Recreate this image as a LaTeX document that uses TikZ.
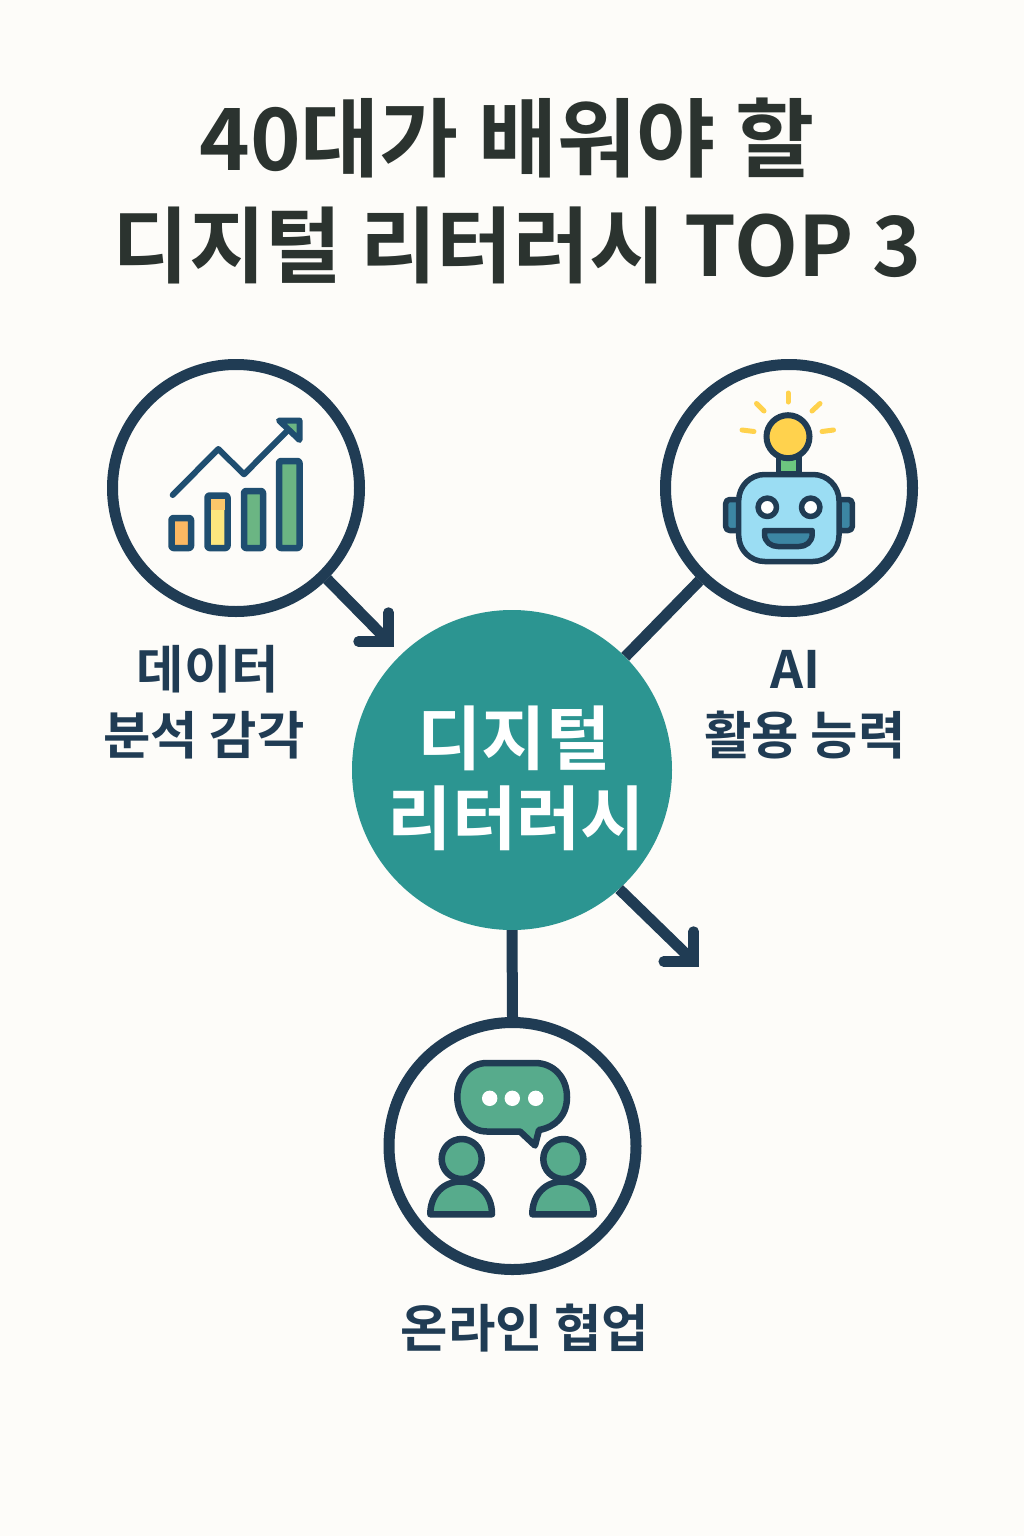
\documentclass[tikz,border=0pt]{standalone}
\usepackage{fontspec}
\setmainfont{Noto Sans CJK KR}[BoldFont={Noto Sans CJK KR Bold}]
\definecolor{bgc}{HTML}{FDFCF9}
\definecolor{navy}{HTML}{203C54}
\definecolor{chartb}{HTML}{1F4E70}
\definecolor{titlec}{HTML}{2B332F}
\definecolor{teal}{HTML}{2C9591}
\definecolor{orangef}{HTML}{FBB862}
\definecolor{yellowf}{HTML}{FCE77E}
\definecolor{greenf}{HTML}{6BB583}
\definecolor{bulb}{HTML}{FFD24D}
\definecolor{neck}{HTML}{6CC67F}
\definecolor{robot}{HTML}{9BDDF3}
\definecolor{ear}{HTML}{3C86A3}
\definecolor{chat}{HTML}{57AB8C}
\tikzset{
  x=1pt,y=-1pt,
  ring/.style={circle,draw=navy,line width=11pt,minimum size=247pt,inner sep=0pt},
  hubnode/.style={circle,fill=teal,minimum size=320pt,inner sep=0pt},
  hubtextstyle/.style={text=white,font=\bfseries\fontsize{70}{80}\selectfont,align=center},
  titletext/.style={text=titlec,font=\bfseries\fontsize{83}{90}\selectfont},
  labeltext/.style={text=navy,font=\bfseries\fontsize{51.5}{60}\selectfont},
  link/.style={draw=navy,line width=11pt},
  barbhead/.style={draw=navy,line width=10.5pt,line cap=round,line join=miter},
  barbox/.style={draw=chartb,line width=6.5pt,rounded corners=2pt,line join=round},
  chartline/.style={draw=chartb,line width=6pt,line cap=round,line join=round},
  iconline/.style={draw=navy,line width=5.5pt,line join=round},
  chatline/.style={draw=navy,line width=6.5pt,line join=round},
  ray/.style={draw=bulb,line width=5pt,line cap=round},
}
\begin{document}
\begin{tikzpicture}
\useasboundingbox[fill=bgc] (0,0) rectangle (1024,1536);
% titles
\node[titletext,font=\bfseries\fontsize{86}{90}\selectfont] (t1) at (507,138) {40대가 배워야 할};
\node[titletext] (t2) at (517,245) {디지털 리터러시 TOP 3};
% nodes
\node[ring] (c1) at (236,488) {};
\node[ring] (c2) at (789,488) {};
\node[ring] (c3) at (512.5,1146) {};
\node[hubnode] (hub) at (512,770) {};
\node[hubtextstyle] (hubtext) at (514,778) {디지털\\\hspace*{5pt}리터러시};
\coordinate (tipa) at (388.5,641.5);
\coordinate (tipb) at (693.7,961.5);
% connectors
\draw[link] (c1.-45) -- (tipa);
\draw[barbhead] (tipa) ++(-30,0) -- (tipa) -- ++(0,-29);
\draw[link] (c2.-134) -- (hub.45);
\draw[link] (hub.-48) -- (tipb);
\draw[barbhead] (tipb) ++(-30,0) -- (tipb) -- ++(0,-30);
\draw[link] (hub.-90) -- (c3.90);
% labels
\node[labeltext] (l1) at (208,669) {데이터};
\node[labeltext] (l2) at (204,735) {분석 감각};
\node[labeltext] (l3) at (795,669) {AI};
\node[labeltext] (l4) at (805,735) {활용 능력};
\node[labeltext] (l5) at (525,1328) {온라인 협업};
% chart icon
\filldraw[barbox,fill=orangef] (171.5,518) rectangle (191,548);
\filldraw[barbox,fill=yellowf] (207.5,495.5) rectangle (227.5,548);
\fill[orangef!70!yellowf] (210.5,498.5) rectangle (224.5,510);
\filldraw[barbox,fill=greenf] (244,491) rectangle (263,548);
\filldraw[barbox,fill=greenf] (279,461) rectangle (299.5,548);
\draw[chartline] (172.7,495) -- (218.3,449) -- (244,474.3) -- (294,424);
\filldraw[chartline,fill=greenf] (279,420.5) -- (299.5,420.5) -- (299.5,440) -- cycle;
% robot icon
\filldraw[iconline,fill=neck] (778.5,456) rectangle (799,474);
\filldraw[iconline,fill=ear,rounded corners=4pt] (725.7,499.5) rectangle (740,530.5);
\filldraw[iconline,fill=ear,rounded corners=4pt] (838,499.5) rectangle (852.3,530.5);
\filldraw[iconline,fill=robot,rounded corners=26pt] (738.7,474.5) rectangle (839,561.5);
\filldraw[iconline,fill=white] (767.3,507.3) circle (9.2);
\filldraw[iconline,fill=white] (810.7,507.3) circle (9.2);
\filldraw[iconline,fill=ear] (764.5,530.5) -- (812.2,530.5) -- (812.2,534) .. controls (812.2,542) and (806,546.5) .. (799,546.5) -- (778,546.5) .. controls (771,546.5) and (764.5,542) .. (764.5,534) -- cycle;
\filldraw[draw=navy,line width=6pt,fill=bulb] (788,436.7) circle (21.5);
\draw[ray] (788,393) -- (788,402);
\draw[ray] (756.5,403.5) -- (764,411);
\draw[ray] (820,403.5) -- (812,411);
\draw[ray] (742,430) -- (754,431.5);
\draw[ray] (833.5,430) -- (822,431.5);
% chat icon
\filldraw[chatline,fill=chat] (487,1063) -- (535,1063) .. controls (554,1063) and (567,1078) .. (567,1097) .. controls (567,1115) and (556,1127) .. (539,1130) -- (535,1145.5) -- (520,1131.5) -- (487,1131.5) .. controls (469,1131.5) and (457.3,1115) .. (457.3,1097) .. controls (457.3,1078) and (469,1063) .. (487,1063) -- cycle;
\fill[white] (489.7,1098.3) circle (7.7) (512.3,1098.3) circle (7.7) (535.7,1098.3) circle (7.7);
\filldraw[chatline,fill=chat] (461.7,1159) circle (20);
\filldraw[chatline,fill=chat] (563.3,1159) circle (20);
\filldraw[chatline,fill=chat] (430.3,1214.3) .. controls (430.3,1194) and (444,1181.5) .. (461,1181.5) .. controls (478,1181.5) and (492,1194) .. (492,1214.3) -- cycle;
\filldraw[chatline,fill=chat] (532.3,1214.3) .. controls (532.3,1194) and (546,1181.5) .. (563,1181.5) .. controls (580,1181.5) and (593.7,1194) .. (593.7,1214.3) -- cycle;
\end{tikzpicture}
\end{document}
